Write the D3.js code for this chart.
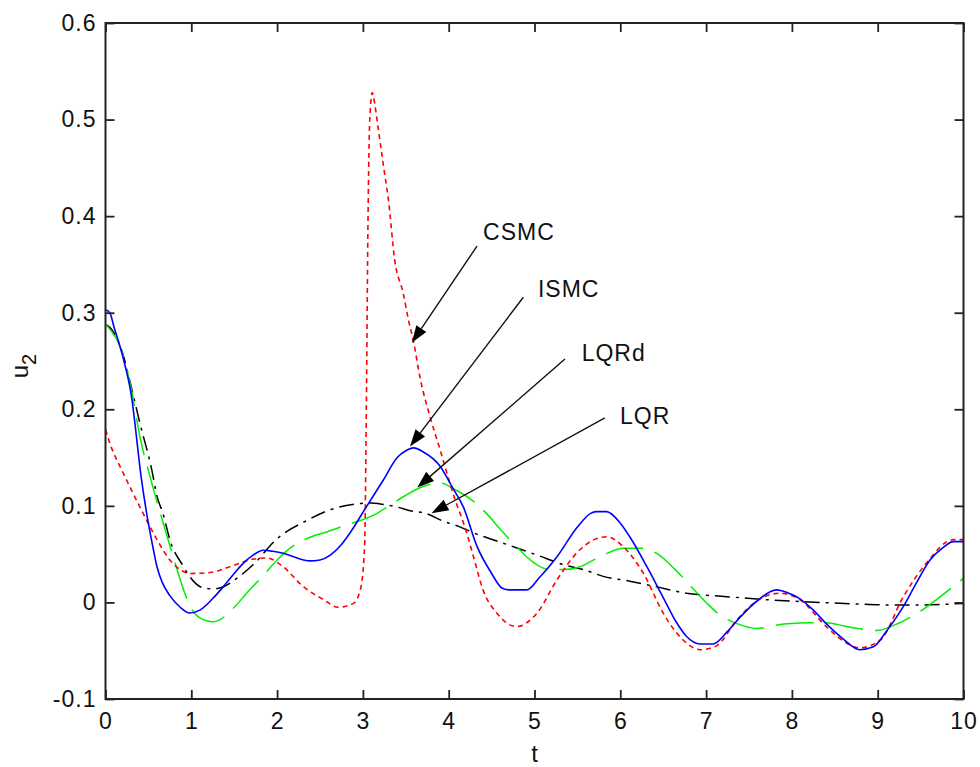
<!DOCTYPE html>
<html>
<head>
<meta charset="utf-8">
<script src="https://cdn.jsdelivr.net/npm/d3@7"></script>
<style>
  html, body { margin: 0; padding: 0; background: #fff; }
  svg { display: block; }
  text { font-family: "Liberation Sans", Arial, Helvetica, sans-serif; fill: #111; }
</style>
</head>
<body>
<svg id="chart" width="980" height="767"></svg>
<script>
// Control input u2 over time for four controllers: [t, u2] samples
const ismc = [[0,0.303],[0.05,0.300],[0.1,0.285],[0.2,0.255],[0.3,0.215],[0.42,0.127],[0.48,0.092],[0.54,0.063],[0.6,0.037],[0.66,0.021],[0.75,0.007],[0.87,-0.005],[0.98,-0.011],[1.1,-0.008],[1.25,0.004],[1.37,0.016],[1.5,0.030],[1.61,0.041],[1.72,0.049],[1.84,0.054],[1.95,0.053],[2.07,0.051],[2.2,0.047],[2.38,0.043],[2.5,0.044],[2.62,0.049],[2.75,0.060],[2.85,0.072],[3.04,0.099],[3.24,0.127],[3.4,0.150],[3.5,0.157],[3.59,0.160],[3.7,0.156],[3.9,0.141],[4.05,0.118],[4.17,0.099],[4.33,0.058],[4.5,0.030],[4.62,0.015],[4.71,0.013],[4.91,0.013],[5.05,0.025],[5.26,0.047],[5.5,0.078],[5.65,0.092],[5.72,0.094],[5.84,0.094],[6.0,0.082],[6.11,0.068],[6.31,0.037],[6.5,0.005],[6.65,-0.020],[6.77,-0.035],[6.93,-0.043],[7.08,-0.043],[7.25,-0.030],[7.4,-0.015],[7.6,0.002],[7.82,0.013],[7.95,0.010],[8.09,0.004],[8.25,-0.008],[8.4,-0.022],[8.6,-0.038],[8.79,-0.049],[8.95,-0.046],[9.1,-0.030],[9.3,-0.004],[9.45,0.020],[9.61,0.044],[9.75,0.056],[9.88,0.063],[10,0.063]];

const csmc = [[0,0.179],[0.05,0.165],[0.19,0.137],[0.31,0.115],[0.44,0.092],[0.6,0.065],[0.75,0.044],[0.87,0.034],[0.98,0.030],[1.22,0.031],[1.45,0.037],[1.68,0.044],[1.88,0.046],[2.07,0.037],[2.31,0.016],[2.54,0.003],[2.71,-0.005],[2.89,-0.001],[2.97,0.013],[3.02,0.058],[3.04,0.20],[3.06,0.40],[3.08,0.50],[3.11,0.528],[3.14,0.515],[3.18,0.49],[3.24,0.452],[3.30,0.415],[3.37,0.355],[3.47,0.32],[3.53,0.293],[3.59,0.270],[3.67,0.231],[3.78,0.193],[3.9,0.158],[4.05,0.113],[4.21,0.072],[4.29,0.047],[4.40,0.013],[4.56,-0.011],[4.79,-0.025],[5.03,-0.011],[5.26,0.023],[5.49,0.051],[5.72,0.066],[5.84,0.068],[6.03,0.058],[6.27,0.030],[6.5,-0.011],[6.66,-0.032],[6.8,-0.044],[6.93,-0.049],[7.12,-0.045],[7.36,-0.018],[7.6,0.002],[7.86,0.0095],[8.09,0.003],[8.4,-0.025],[8.6,-0.040],[8.79,-0.047],[9.03,-0.039],[9.3,0.006],[9.57,0.041],[9.88,0.065],[10,0.065]];

const lqrd = [[0,0.288],[0.05,0.283],[0.17,0.265],[0.31,0.217],[0.40,0.172],[0.52,0.130],[0.64,0.092],[0.79,0.047],[0.91,0.013],[0.98,-0.003],[1.1,-0.016],[1.26,-0.020],[1.33,-0.018],[1.49,-0.006],[1.65,0.010],[1.84,0.028],[2.0,0.044],[2.23,0.061],[2.4,0.068],[2.58,0.073],[2.77,0.079],[3.16,0.092],[3.32,0.101],[3.5,0.111],[3.70,0.120],[3.9,0.124],[4.05,0.118],[4.27,0.106],[4.42,0.094],[4.64,0.072],[4.79,0.058],[4.91,0.047],[5.18,0.034],[5.35,0.034],[5.53,0.037],[5.69,0.044],[5.85,0.051],[6.03,0.056],[6.27,0.056],[6.42,0.051],[6.64,0.034],[6.81,0.018],[7.0,0.000],[7.16,-0.013],[7.36,-0.022],[7.59,-0.027],[7.94,-0.022],[8.4,-0.021],[8.64,-0.025],[8.99,-0.029],[9.18,-0.024],[9.49,-0.0095],[9.73,0.006],[10,0.025]];

const lqr = [[0,0.288],[0.05,0.285],[0.21,0.255],[0.29,0.227],[0.40,0.186],[0.54,0.137],[0.6,0.11],[0.67,0.092],[0.75,0.065],[0.91,0.037],[0.98,0.027],[1.14,0.015],[1.25,0.014],[1.37,0.016],[1.53,0.025],[1.72,0.039],[2.0,0.066],[2.35,0.085],[2.62,0.096],[2.93,0.102],[3.1,0.103],[3.2,0.102],[3.39,0.099],[3.55,0.095],[3.74,0.092],[3.94,0.084],[4.11,0.079],[4.29,0.072],[4.48,0.066],[4.68,0.060],[4.87,0.054],[5.03,0.049],[5.34,0.039],[5.57,0.034],[5.80,0.027],[6.11,0.022],[6.38,0.017],[6.77,0.0095],[7.24,0.006],[7.74,0.0026],[8.33,0.0],[8.72,-0.0015],[9.1,-0.0026],[9.49,-0.0026],[10,-0.001]];

// Tick values
const xTicks = [0,1,2,3,4,5,6,7,8,9,10];
const yTicks = [-0.1,0,0.1,0.2,0.3,0.4,0.5,0.6];

// Annotation labels: text anchor point and arrow (from -> tip), all in data units
const labelNames = ["CSMC", "ISMC", "LQRd", "LQR"];
const labelAt    = [[4.40,0.3756],[5.04,0.316],[5.55,0.250],[5.997,0.185]];
const arrowFrom  = [[4.33,0.369],[4.87,0.316],[5.355,0.252],[5.82,0.191]];
const arrowTip   = [[3.57,0.269],[3.549,0.1615],[3.634,0.119],[3.80,0.0924]];

const svg = d3.select("#chart");
const plotLeft = 105.5, plotRight = 963.5, plotTop = 23, plotBottom = 699;

const x = d3.scaleLinear().domain([0, 10]).range([plotLeft, plotRight]);
const y = d3.scaleLinear().domain([-0.1, 0.6]).range([plotBottom, plotTop]);

const fmtY = d => (Math.abs(d) < 1e-9 ? "0" : d.toFixed(1));

// Series (drawn first, frame on top)
const series = [
  { data: lqr,  color: "#000000", dash: "15,6,3,6", width: 1.5 },
  { data: lqrd, color: "#00ee00", dash: "38,12",    width: 1.5 },
  { data: csmc, color: "#ff0000", dash: "5,4",      width: 1.6 },
  { data: ismc, color: "#0000ff", dash: null,       width: 1.6 }
];

const line = d3.line()
  .x(d => x(d[0]))
  .y(d => y(d[1]))
  .curve(d3.curveMonotoneX);

const plot = svg.append("g");
plot.selectAll("path.series")
  .data(series)
  .join("path")
  .attr("class", "series")
  .attr("d", d => line(d.data))
  .attr("fill", "none")
  .attr("stroke", d => d.color)
  .attr("stroke-width", d => d.width)
  .attr("stroke-dasharray", d => d.dash)
  .attr("stroke-linejoin", "round");

// Axes: ticks point inward on all four sides
const tickLen = 9;
const axisStroke = "#222";
const fontSize = 23;

const gx = svg.append("g").attr("transform", `translate(0,${plotBottom})`)
  .call(d3.axisBottom(x).tickValues(xTicks).tickSizeInner(-tickLen).tickSizeOuter(0).tickPadding(14).tickFormat(d3.format("d")));
const gy = svg.append("g").attr("transform", `translate(${plotLeft},0)`)
  .call(d3.axisLeft(y).tickValues(yTicks).tickSizeInner(-tickLen).tickSizeOuter(0).tickPadding(9).tickFormat(fmtY));
const gxt = svg.append("g").attr("transform", `translate(0,${plotTop})`)
  .call(d3.axisTop(x).tickValues(xTicks).tickSizeInner(-tickLen).tickSizeOuter(0).tickFormat(""));
const gyr = svg.append("g").attr("transform", `translate(${plotRight},0)`)
  .call(d3.axisRight(y).tickValues(yTicks).tickSizeInner(-tickLen).tickSizeOuter(0).tickFormat(""));

[gx, gy, gxt, gyr].forEach(g => {
  g.select(".domain").remove();
  g.selectAll(".tick line").attr("stroke", axisStroke).attr("stroke-width", 1.8);
  g.selectAll(".tick text")
    .attr("fill", "#111")
    .style("font-family", '"Liberation Sans", Arial, sans-serif')
    .style("font-size", fontSize + "px")
    .style("letter-spacing", "1px");
});

svg.append("rect")
  .attr("x", plotLeft).attr("y", plotTop)
  .attr("width", plotRight - plotLeft).attr("height", plotBottom - plotTop)
  .attr("fill", "none").attr("stroke", axisStroke).attr("stroke-width", 2);

// Axis titles
svg.append("text")
  .attr("x", x(5)).attr("y", 762)
  .attr("text-anchor", "middle")
  .style("font-size", "24px")
  .text("t");

const ylab = svg.append("text")
  .attr("transform", "translate(28,366) rotate(-90)")
  .attr("text-anchor", "middle")
  .style("font-size", "24px");
ylab.append("tspan").text("u");
ylab.append("tspan").attr("dy", 8).style("font-size", "20px").text("2");

// Annotations with arrows
const ann = svg.append("g");
labelNames.forEach((name, i) => {
  const [x0, y0] = [x(arrowFrom[i][0]), y(arrowFrom[i][1])];
  const [x1, y1] = [x(arrowTip[i][0]), y(arrowTip[i][1])];
  const ang = Math.atan2(y1 - y0, x1 - x0);
  const headLen = 17, headHalf = 6;
  const bx = x1 - headLen * Math.cos(ang), by = y1 - headLen * Math.sin(ang);
  ann.append("line")
    .attr("x1", x0).attr("y1", y0).attr("x2", bx).attr("y2", by)
    .attr("stroke", "#111").attr("stroke-width", 1.4);
  const px = -Math.sin(ang) * headHalf, py = Math.cos(ang) * headHalf;
  ann.append("path")
    .attr("d", `M${x1},${y1}L${bx + px},${by + py}L${bx - px},${by - py}Z`)
    .attr("fill", "#000");
  ann.append("text")
    .attr("x", x(labelAt[i][0])).attr("y", y(labelAt[i][1]))
    .style("font-size", "23px")
    .style("letter-spacing", "1px")
    .text(name);
});
</script>
</body>
</html>
